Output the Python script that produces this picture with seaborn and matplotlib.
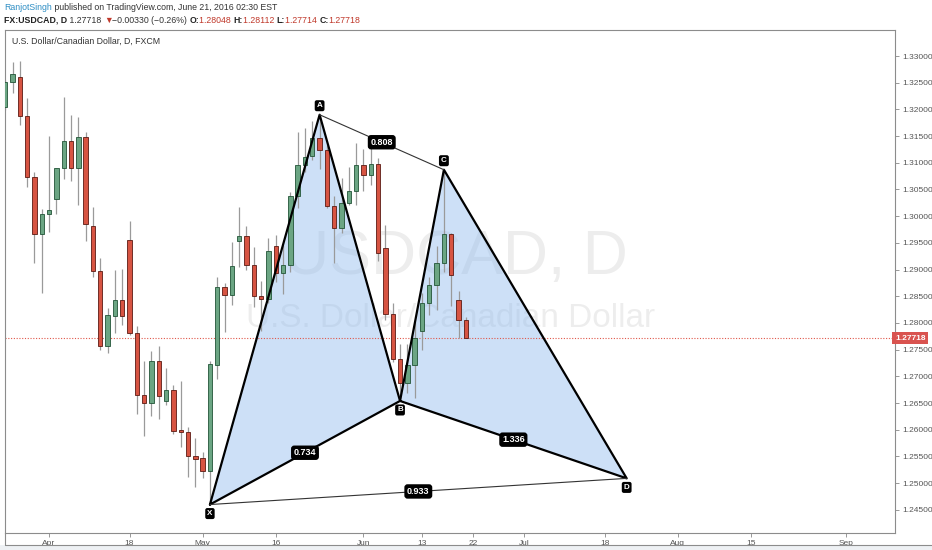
import matplotlib
matplotlib.use('Agg')
import matplotlib.pyplot as plt
import matplotlib.transforms as mtransforms
from matplotlib.patches import Polygon, Rectangle
from matplotlib.lines import Line2D
import seaborn as sns
import numpy as np
import pandas as pd

# daily FX:USDCAD candles, first bar 24 Mar 2016, last bar 21 Jun 2016
first_day = '2016-03-24'
opens = [1.3205, 1.3251, 1.3260, 1.3188, 1.3074, 1.2966, 1.3004, 1.3032, 1.3090, 1.3140,
         1.3090, 1.3148, 1.2982, 1.2898, 1.2756, 1.2814, 1.2843, 1.2955, 1.2782, 1.2666,
         1.2650, 1.2729, 1.2653, 1.2675, 1.2600, 1.2595, 1.2550, 1.2547, 1.2523, 1.2721,
         1.2867, 1.2852, 1.2954, 1.2962, 1.2909, 1.2851, 1.2845, 1.2945, 1.2894, 1.2909,
         1.3037, 1.3095, 1.3113, 1.3146, 1.3124, 1.3020, 1.2978, 1.3024, 1.3047, 1.3096,
         1.3078, 1.3098, 1.2940, 1.2816, 1.2732, 1.2688, 1.2721, 1.2785, 1.2837, 1.2871,
         1.2912, 1.2967, 1.2843, 1.28048]
highs = [1.3255, 1.3289, 1.3291, 1.3221, 1.3083, 1.3013, 1.3150, 1.3091, 1.3223, 1.3190,
         1.3185, 1.3158, 1.3018, 1.2921, 1.2828, 1.2899, 1.2902, 1.2991, 1.2794, 1.2728,
         1.2748, 1.2756, 1.2715, 1.2684, 1.2691, 1.2605, 1.2584, 1.2559, 1.2728, 1.2887,
         1.2875, 1.2952, 1.3017, 1.2982, 1.2943, 1.2878, 1.2959, 1.2965, 1.2946, 1.3046,
         1.3158, 1.3165, 1.3178, 1.3190, 1.3133, 1.3038, 1.3071, 1.3092, 1.3138, 1.3126,
         1.3148, 1.3109, 1.2984, 1.2837, 1.2760, 1.2761, 1.2802, 1.2856, 1.2886, 1.2944,
         1.3087, 1.2969, 1.2860, 1.28112]
lows = [1.3199, 1.3230, 1.3171, 1.3054, 1.2913, 1.2857, 1.2970, 1.3004, 1.3069, 1.3066,
        1.3021, 1.2954, 1.2886, 1.2749, 1.2743, 1.2782, 1.2796, 1.2778, 1.2629, 1.2589,
        1.2626, 1.2620, 1.2646, 1.2592, 1.2568, 1.2512, 1.2493, 1.2509, 1.2460, 1.2696,
        1.2784, 1.2834, 1.2905, 1.2899, 1.2830, 1.2785, 1.2837, 1.2877, 1.2854, 1.2896,
        1.3015, 1.3083, 1.3105, 1.3088, 1.3015, 1.2912, 1.2969, 1.3021, 1.3021, 1.3047,
        1.3058, 1.2917, 1.2806, 1.2727, 1.2654, 1.2668, 1.2659, 1.2749, 1.2815, 1.2824,
        1.2896, 1.2831, 1.2771, 1.27714]
closes = [1.3251, 1.3266, 1.3188, 1.3074, 1.2966, 1.3005, 1.3012, 1.3090, 1.3140, 1.3090,
          1.3148, 1.2985, 1.2897, 1.2756, 1.2815, 1.2843, 1.2814, 1.2782, 1.2666, 1.2650,
          1.2729, 1.2664, 1.2675, 1.2598, 1.2595, 1.2550, 1.2545, 1.2523, 1.2723, 1.2867,
          1.2852, 1.2907, 1.2962, 1.2909, 1.2851, 1.2845, 1.2935, 1.2894, 1.2909, 1.3037,
          1.3096, 1.3110, 1.3147, 1.3124, 1.3019, 1.2978, 1.3024, 1.3047, 1.3096, 1.3078,
          1.3098, 1.2931, 1.2816, 1.2732, 1.2688, 1.2721, 1.2771, 1.2837, 1.2871, 1.2912,
          1.2967, 1.2890, 1.2805, 1.27718]
last_price = 1.27718

# XABCD harmonic pattern drawn on the chart
pattern_names = ['X', 'A', 'B', 'C', 'D']
pattern_dates = ['2016-05-03', '2016-05-24', '2016-06-08', '2016-06-16', '2016-07-21']
pattern_prices = [1.2460, 1.3190, 1.2654, 1.3087, 1.2509]
ratio_legs = [('X', 'B'), ('A', 'C'), ('B', 'D'), ('X', 'D')]
ratio_labels = ['0.734', '0.808', '1.336', '0.933']

tick_dates = ['2016-04-01', '2016-04-18', '2016-05-02', '2016-05-16', '2016-06-01', '2016-06-13',
              '2016-06-22', '2016-07-01', '2016-07-18', '2016-08-01', '2016-08-15', '2016-09-01']
tick_labels = ['Apr', '18', 'May', '16', 'Jun', '13', '22', 'Jul', '18', 'Aug', '15', 'Sep']
price_ticks = [1.245, 1.250, 1.255, 1.260, 1.265, 1.270, 1.275, 1.280, 1.285,
               1.290, 1.295, 1.300, 1.305, 1.310, 1.315, 1.320, 1.325, 1.330]

sns.set_theme(style='white')
plt.rcParams['font.family'] = ['Liberation Sans', 'DejaVu Sans']

days = pd.bdate_range(first_day, '2016-09-30')
def day_pos(d):
    return days.get_loc(pd.Timestamp(d))

fig = plt.figure(figsize=(9.32, 5.5), dpi=100)
W, H = 932.0, 550.0
ax = fig.add_axes([4.5 / W, 17 / H, (895 - 4.5) / W, (533 - 30) / H])
ax.set_facecolor('white')

# watermark
ax.text(0.507, 0.547, 'USDCAD, D', transform=ax.transAxes, ha='center', va='center',
        fontsize=45, color='black', alpha=0.07, zorder=0)
ax.text(0.501, 0.427, 'U.S. Dollar/Canadian Dollar', transform=ax.transAxes, ha='center',
        va='center', fontsize=24, color='black', alpha=0.07, zorder=0)

# pattern fill
px = {n: day_pos(d) for n, d in zip(pattern_names, pattern_dates)}
py = dict(zip(pattern_names, pattern_prices))
for tri in [('X', 'A', 'B'), ('B', 'C', 'D')]:
    ax.add_patch(Polygon([(px[n], py[n]) for n in tri], closed=True, fc='#90bbee',
                         ec='none', alpha=0.45, zorder=1))

# candles
pos = np.arange(len(opens))
o = np.array(opens); c = np.array(closes)
up = c >= o
ax.vlines(pos, lows, highs, color='#9a9a9a', lw=0.9, zorder=2)
ax.bar(pos[up], (c - o)[up], bottom=o[up], width=0.6, color='#6ba583',
       edgecolor='#225437', linewidth=0.6, zorder=3)
ax.bar(pos[~up], (o - c)[~up], bottom=c[~up], width=0.6, color='#d75442',
       edgecolor='#5b1a13', linewidth=0.6, zorder=3)

# pattern legs
leg_df = pd.DataFrame({
    'x': [px[n] for n in ['X', 'A', 'B', 'X']] + [np.nan] + [px[n] for n in ['B', 'C', 'D', 'B']],
    'y': [py[n] for n in ['X', 'A', 'B', 'X']] + [np.nan] + [py[n] for n in ['B', 'C', 'D', 'B']],
})
for seg in [leg_df.iloc[:4], leg_df.iloc[5:]]:
    sns.lineplot(data=seg, x='x', y='y', sort=False, estimator=None, color='black',
                 lw=1.6, ax=ax, zorder=4)
for a, b in [('X', 'D'), ('A', 'C')]:
    ax.plot([px[a], px[b]], [py[a], py[b]], color='#333333', lw=0.8, zorder=4)

for (a, b), lab in zip(ratio_legs, ratio_labels):
    ax.text((px[a] + px[b]) / 2, (py[a] + py[b]) / 2, lab, ha='center', va='center',
            fontsize=6.5, color='white', fontweight='bold', zorder=6,
            bbox=dict(boxstyle='round,pad=0.3,rounding_size=0.35', fc='black', ec='none'))

for n in pattern_names:
    dy = 6.5 if n in ('A', 'C') else -6.5
    ax.annotate(n, (px[n], py[n]), xytext=(0, dy), textcoords='offset points',
                ha='center', va='center', fontsize=5.8, color='white', fontweight='bold',
                zorder=6, bbox=dict(boxstyle='round,pad=0.25,rounding_size=0.25', fc='black', ec='none'))

# last price line and tag
ax.axhline(last_price, color='#e0574a', lw=0.8, ls=(0, (1, 1.5)), zorder=1.5)
blend = mtransforms.blended_transform_factory(ax.transAxes, ax.transData)
ax.text(1.0, last_price, f'{last_price:.5f}', transform=blend, ha='left', va='center',
        fontsize=6, color='white', fontweight='bold', zorder=7, clip_on=False,
        bbox=dict(boxstyle='square,pad=0.35', fc='#d9534f', ec='none'))

ax.set_xlim(-0.1, 121.7)
ax.set_ylim(1.24067, 1.33487)
ax.set_xticks([day_pos(d) for d in tick_dates])
ax.set_xticklabels(tick_labels)
ax.set_yticks(price_ticks)
ax.set_yticklabels([f'{p:.5f}' for p in price_ticks])
ax.yaxis.tick_right()
ax.tick_params(axis='both', direction='out', length=3, width=0.6, color='#888888',
               labelsize=6, labelcolor='#555555', pad=2, bottom=True, right=True, left=False)
ax.set_xlabel('')
ax.set_ylabel('')
for s in ax.spines.values():
    s.set_color('#8c8c8c')
    s.set_linewidth(0.8)

ax.text(8 / 890.5, 1 - 11 / 503, 'U.S. Dollar/Canadian Dollar, D, FXCM', transform=ax.transAxes,
        ha='left', va='center', fontsize=6.3, color='#333333')

# bottom time axis frame and grey strip
fig.patches.append(Rectangle((0, 0), 1, 5 / H, transform=fig.transFigure, fc='#eef1f4', ec='none'))
fig.lines.append(Line2D([4.5 / W, 1], [5 / H, 5 / H], transform=fig.transFigure, color='#8c8c8c', lw=0.8))
fig.lines.append(Line2D([4.5 / W, 4.5 / W], [5 / H, 17 / H], transform=fig.transFigure, color='#8c8c8c', lw=0.8))

# header
def rainbow(parts, x, y, size):
    t = fig.text(x, y, parts[0][0], color=parts[0][1], fontweight=parts[0][2],
                 fontsize=size, ha='left', va='baseline')
    for s, col, w in parts[1:]:
        t = ax.annotate(s, xy=(1, 0), xycoords=t, va='bottom', ha='left', color=col,
                        fontweight=w, fontsize=size, annotation_clip=False)

rainbow([('RanjotSingh', '#2e8ec4', 'normal'),
         (' published on TradingView.com, June 21, 2016 02:30 EST', '#333333', 'normal')],
        4 / W, 1 - 10 / H, 6.3)
red = '#c0392b'
rainbow([('FX:USDCAD, D', '#222222', 'bold'), (' 1.27718 ', '#333333', 'normal'),
         ('\u25bc', red, 'normal'), ('\u22120.00330 (\u22120.26%) ', '#333333', 'normal'),
         ('O:', '#222222', 'bold'), ('1.28048 ', red, 'normal'),
         ('H:', '#222222', 'bold'), ('1.28112 ', red, 'normal'),
         ('L:', '#222222', 'bold'), ('1.27714 ', red, 'normal'),
         ('C:', '#222222', 'bold'), ('1.27718', red, 'normal')],
        4 / W, 1 - 23 / H, 6.3)

fig.savefig('out.png', dpi=100, facecolor='white')
